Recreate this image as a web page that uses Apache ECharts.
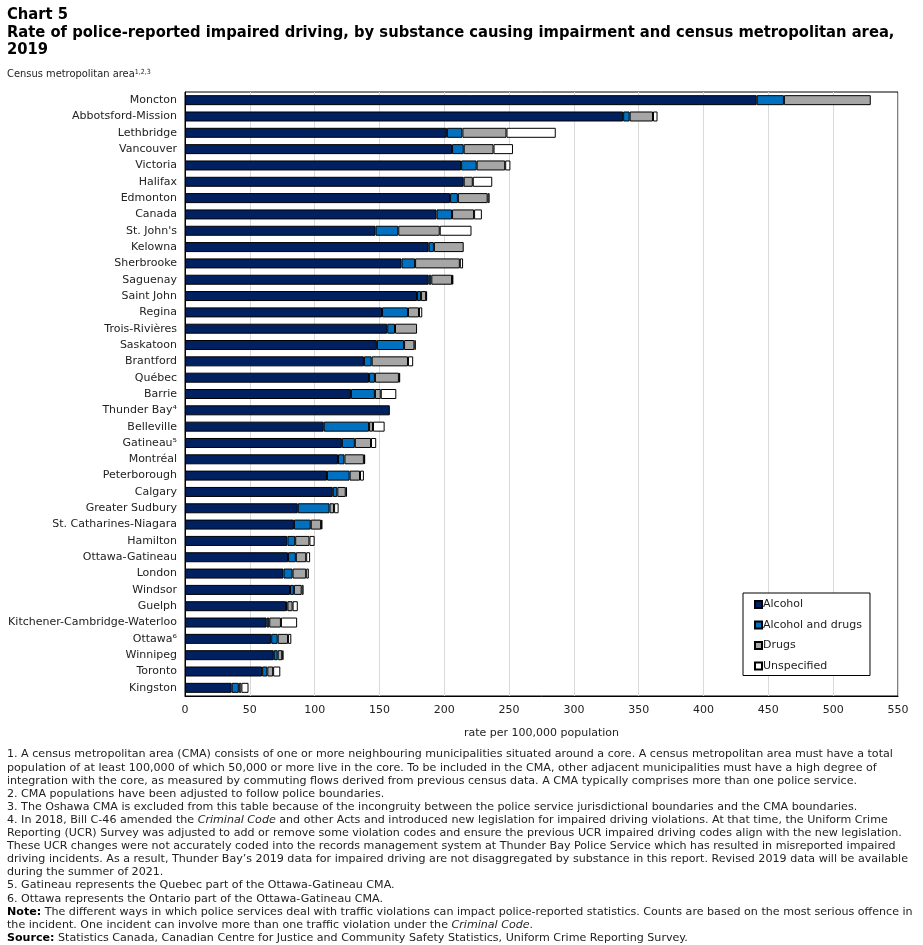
<!DOCTYPE html>
<html>
<head>
<meta charset="utf-8">
<script src="https://cdn.jsdelivr.net/npm/echarts@6/dist/echarts.min.js"></script>
<style>
  html, body { margin: 0; padding: 0; background: #fff; }
  #main { width: 923px; height: 945px; }
</style>
</head>
<body>
<div id="main"></div>
<script>
  // categories, top to bottom
  const cities = ['Moncton', 'Abbotsford-Mission', 'Lethbridge', 'Vancouver', 'Victoria', 'Halifax', 'Edmonton',
    'Canada', "St. John's", 'Kelowna', 'Sherbrooke', 'Saguenay', 'Saint John', 'Regina', 'Trois-Rivières',
    'Saskatoon', 'Brantford', 'Québec', 'Barrie', 'Thunder Bay⁴', 'Belleville', 'Gatineau⁵', 'Montréal',
    'Peterborough', 'Calgary', 'Greater Sudbury', 'St. Catharines-Niagara', 'Hamilton', 'Ottawa-Gatineau',
    'London', 'Windsor', 'Guelph', 'Kitchener-Cambridge-Waterloo', 'Ottawa⁶', 'Winnipeg', 'Toronto', 'Kingston']

  // rate per 100,000 population
  const alcohol = [441, 338, 202, 206, 213, 215, 204.5, 194, 147, 188, 167, 188, 179, 152, 156, 148, 138, 142, 128, 158,
    107, 121, 118, 109.5, 114, 87, 84, 79, 79.5, 76, 81, 78, 63, 66.5, 68.5, 59.5, 36]
  const alcoholDrugs = [21, 5, 12, 9, 12, 0, 6, 12, 17.5, 4, 10.5, 2, 3, 20, 6, 21, 6, 4.5, 18.5, 0,
    35, 10, 5, 17.5, 3.5, 24.5, 13, 6, 6, 7, 3, 1, 2, 5, 3, 4, 5.5]
  const drugs = [67, 18, 34, 23, 22, 7, 23, 17, 32, 23, 34.5, 16, 4, 8.5, 17, 8, 28, 18.5, 4.5, 0,
    3, 12.5, 15, 8, 6.5, 3.5, 8, 11, 8, 10.5, 6, 4, 9, 8, 3.5, 4.5, 2]
  const unspecified = [0, 3.5, 38, 15, 4, 15, 1.5, 6, 24.5, 0, 2.5, 1, 0.7, 2.5, 0, 1, 4, 1, 12, 0,
    9, 4, 1, 3, 1, 3.5, 1, 4, 3, 2, 1.5, 4, 12.5, 2.5, 1, 5.5, 5.5]

  const xTicks = [0, 50, 100, 150, 200, 250, 300, 350, 400, 450, 500, 550]

  const font = 'DejaVu Sans'
  const titleFont = 'bold 16.4px "DejaVu Sans Condensed"'

  const footnotes = [
    '1. A census metropolitan area (CMA) consists of one or more neighbouring municipalities situated around a core. A census metropolitan area must have a total',
    'population of at least 100,000 of which 50,000 or more live in the core. To be included in the CMA, other adjacent municipalities must have a high degree of',
    'integration with the core, as measured by commuting flows derived from previous census data. A CMA typically comprises more than one police service.',
    '2. CMA populations have been adjusted to follow police boundaries.',
    '3. The Oshawa CMA is excluded from this table because of the incongruity between the police service jurisdictional boundaries and the CMA boundaries.',
    '4. In 2018, Bill C-46 amended the {i|Criminal Code} and other Acts and introduced new legislation for impaired driving violations. At that time, the Uniform Crime',
    'Reporting (UCR) Survey was adjusted to add or remove some violation codes and ensure the previous UCR impaired driving codes align with the new legislation.',
    'These UCR changes were not accurately coded into the records management system at Thunder Bay Police Service which has resulted in misreported impaired',
    'driving incidents. As a result, Thunder Bay’s 2019 data for impaired driving are not disaggregated by substance in this report. Revised 2019 data will be available',
    'during the summer of 2021.',
    '5. Gatineau represents the Quebec part of the Ottawa-Gatineau CMA.',
    '6. Ottawa represents the Ontario part of the Ottawa-Gatineau CMA.',
    '{b|Note:} The different ways in which police services deal with traffic violations can impact police-reported statistics. Counts are based on the most serious offence in',
    'the incident. One incident can involve more than one traffic violation under the {i|Criminal Code}.',
    '{b|Source:} Statistics Canada, Canadian Centre for Justice and Community Safety Statistics, Uniform Crime Reporting Survey.'
  ]

  const seriesDefs = [
    { name: 'Alcohol', color: '#002060', data: alcohol },
    { name: 'Alcohol and drugs', color: '#0070c0', data: alcoholDrugs },
    { name: 'Drugs', color: '#a6a6a6', data: drugs },
    { name: 'Unspecified', color: '#ffffff', data: unspecified }
  ]

  const seriesData = seriesDefs.map(s => ({
    name: s.name,
    type: 'bar',
    stack: 'total',
    barWidth: 10,
    itemStyle: { color: s.color, borderColor: '#000', borderWidth: 1 },
    emphasis: { disabled: true },
    data: s.data.map(v => v === 0 ? '-' : v)
  }))

  const noteSize = 11.1
  const myChart = echarts.init(document.getElementById('main'))
  const option = {
    animation: false,
    textStyle: { fontFamily: font },
    grid: {
      left: 185, right: 25, top: 92, height: 604,
      show: true, borderColor: '#000', borderWidth: 1
    },
    legend: {
      orient: 'vertical',
      left: 743, top: 593,
      width: 126,
      padding: [5, 8, 3, 11],
      itemGap: 7.5,
      itemWidth: 7,
      itemHeight: 7,
      icon: 'rect',
      borderColor: '#000',
      borderWidth: 1,
      backgroundColor: '#fff',
      selectedMode: false,
      textStyle: { fontFamily: font, fontSize: 11, color: '#222', padding: [0, 0, 0, -4], lineHeight: 13 },
      data: seriesDefs.map(s => s.name)
    },
    xAxis: {
      type: 'value',
      min: 0, max: 550, interval: 50,
      axisLine: { show: true, lineStyle: { color: '#000', width: 1 } },
      axisTick: { show: false },
      axisLabel: { fontSize: 11, color: '#222', margin: 9, formatter: v => xTicks.includes(v) ? String(v) : '' },
      splitLine: { lineStyle: { color: '#d9d9d9', width: 1 } },
      name: 'rate per 100,000 population',
      nameLocation: 'middle',
      nameGap: 32,
      nameTextStyle: { fontSize: 11, color: '#222' }
    },
    yAxis: {
      type: 'category',
      inverse: true,
      data: cities,
      axisLine: { show: true, lineStyle: { color: '#000' } },
      axisTick: { show: false },
      axisLabel: { fontSize: 11, color: '#222', margin: 8, interval: 0 }
    },
    graphic: [
      {
        type: 'text', left: 7, top: 7,
        style: { text: 'Chart 5', font: titleFont, fill: '#000' }
      },
      {
        type: 'text', left: 7, top: 24,
        style: {
          text: 'Rate of police-reported impaired driving, by substance causing impairment and census metropolitan area,\n2019',
          font: titleFont, fill: '#000', lineHeight: 17
        }
      },
      {
        type: 'text', left: 7, top: 69,
        style: {
          text: 'Census metropolitan area{s|1,2,3}',
          font: '11px "DejaVu Sans Condensed"', fill: '#222',
          rich: { s: { fontSize: 7, verticalAlign: 'top', fontFamily: 'DejaVu Sans Condensed', fill: '#222', padding: [0, 0, 4, 0] } }
        }
      },
      {
        type: 'text', left: 7, top: 748,
        style: {
          text: footnotes.join('\n'),
          fontFamily: font, fontSize: noteSize, fill: '#222', lineHeight: 13.1,
          rich: {
            i: { fontStyle: 'italic', fontFamily: font, fontSize: noteSize, fill: '#222', lineHeight: 13.1 },
            b: { fontWeight: 'bold', fontFamily: font, fontSize: noteSize, fill: '#000', lineHeight: 13.1 }
          }
        }
      }
    ],
    series: seriesData
  }
  myChart.setOption(option)
</script>
</body>
</html>
